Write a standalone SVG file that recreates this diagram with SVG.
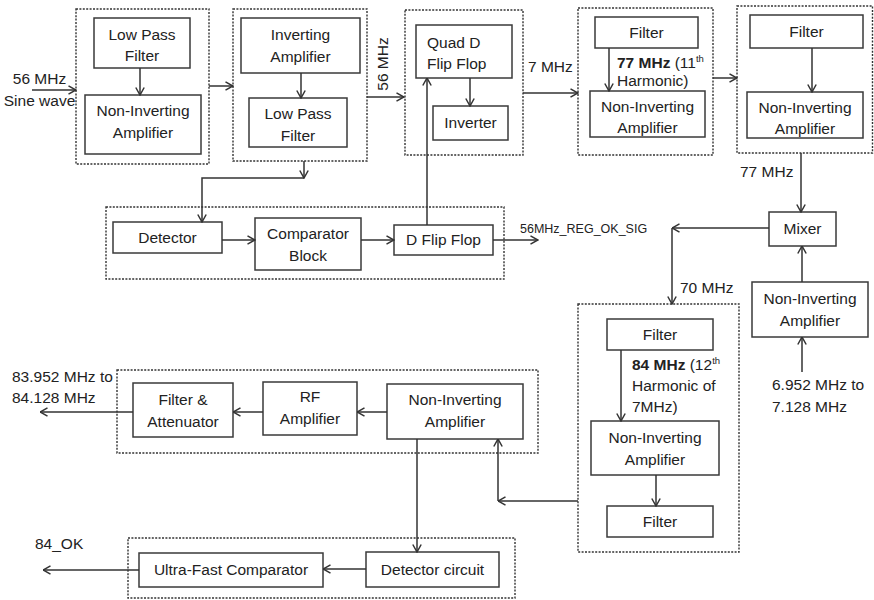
<svg xmlns="http://www.w3.org/2000/svg" width="874" height="600" viewBox="0 0 874 600">
  <defs>
    <style>
      text { font-family: "Liberation Sans", Arial, sans-serif; font-size: 15.5px; fill: #222; }
      .c { text-anchor: middle; }
      .b { font-weight: bold; }
      .small { font-size: 12.5px; }
      .sup { font-size: 9.5px; }
      .grp { fill: none; stroke: #333; stroke-width: 1.4; stroke-dasharray: 2 1.4; }
      .box { fill: #fff; stroke: #3a3a3a; stroke-width: 1.5; }
      .wire { fill: none; stroke: #333; stroke-width: 1.5; }
      .arr { marker-end: url(#head); }
    </style>
    <marker id="head" viewBox="0 0 10 10" refX="9.5" refY="5" markerWidth="10" markerHeight="10" markerUnits="userSpaceOnUse" orient="auto">
      <path d="M2,0.8 L9.5,5 L2,9.2" fill="none" stroke="#333" stroke-width="1.5"/>
    </marker>
  </defs>
  <rect width="874" height="600" fill="#fff"/>

  <!-- Input conditioning stage -->
  <g id="stage1">
    <rect class="grp" x="76" y="9" width="133" height="155"/>
    <g id="lpf1">
      <rect class="box" x="94" y="18" width="96" height="50"/>
      <text class="c" x="142" y="40">Low Pass</text>
      <text class="c" x="142" y="61">Filter</text>
    </g>
    <g id="nia1">
      <rect class="box" x="85" y="95" width="116" height="59"/>
      <text class="c" x="143" y="116">Non-Inverting</text>
      <text class="c" x="143" y="138">Amplifier</text>
    </g>
  </g>

  <g id="stage2">
    <rect class="grp" x="233" y="9" width="134" height="152"/>
    <g id="inv-amp">
      <rect class="box" x="241" y="18" width="119" height="55"/>
      <text class="c" x="300.5" y="40">Inverting</text>
      <text class="c" x="300.5" y="62">Amplifier</text>
    </g>
    <g id="lpf2">
      <rect class="box" x="249" y="98" width="98" height="49"/>
      <text class="c" x="298" y="119">Low Pass</text>
      <text class="c" x="298" y="141">Filter</text>
    </g>
  </g>

  <g id="stage3">
    <rect class="grp" x="405" y="10" width="118" height="145"/>
    <g id="quad-dff">
      <rect class="box" x="416" y="25" width="96" height="53"/>
      <text x="427" y="48">Quad D</text>
      <text x="427" y="69">Flip Flop</text>
    </g>
    <g id="inverter">
      <rect class="box" x="433" y="106" width="75" height="34"/>
      <text class="c" x="470.5" y="128">Inverter</text>
    </g>
  </g>

  <g id="stage4">
    <rect class="grp" x="578" y="8" width="135" height="147"/>
    <g id="filter77">
      <rect class="box" x="595" y="17" width="103" height="31"/>
      <text class="c" x="646.5" y="38">Filter</text>
    </g>
    <g id="nia77">
      <rect class="box" x="590" y="91" width="115" height="46"/>
      <text class="c" x="647.5" y="112">Non-Inverting</text>
      <text class="c" x="647.5" y="133">Amplifier</text>
    </g>
  </g>

  <g id="stage5">
    <rect class="grp" x="737" y="6" width="135.5" height="147"/>
    <g id="filter77b">
      <rect class="box" x="750" y="15" width="113" height="33"/>
      <text class="c" x="806.5" y="37">Filter</text>
    </g>
    <g id="nia77b">
      <rect class="box" x="747" y="92" width="116" height="46"/>
      <text class="c" x="805" y="113">Non-Inverting</text>
      <text class="c" x="805" y="134">Amplifier</text>
    </g>
  </g>

  <g id="mixer">
    <rect class="box" x="769" y="212" width="67" height="34"/>
    <text class="c" x="802.5" y="234">Mixer</text>
  </g>

  <g id="nia-lo">
    <rect class="box" x="752" y="282" width="116" height="55"/>
    <text class="c" x="810" y="304">Non-Inverting</text>
    <text class="c" x="810" y="326">Amplifier</text>
  </g>

  <!-- Regulation check -->
  <g id="regcheck">
    <rect class="grp" x="106" y="207" width="398" height="72"/>
    <g id="detector">
      <rect class="box" x="113" y="222" width="109" height="31"/>
      <text class="c" x="167.5" y="243">Detector</text>
    </g>
    <g id="comparator">
      <rect class="box" x="255" y="218" width="106" height="52"/>
      <text class="c" x="308" y="239">Comparator</text>
      <text class="c" x="308" y="261">Block</text>
    </g>
    <g id="dff">
      <rect class="box" x="394" y="225" width="99" height="30"/>
      <text class="c" x="443.5" y="245">D Flip Flop</text>
    </g>
  </g>

  <!-- 84 MHz harmonic path -->
  <g id="stage84">
    <rect class="grp" x="578" y="304" width="161" height="248"/>
    <g id="filter84">
      <rect class="box" x="607" y="319" width="106" height="31"/>
      <text class="c" x="660" y="340">Filter</text>
    </g>
    <g id="nia84">
      <rect class="box" x="591" y="421" width="128" height="54"/>
      <text class="c" x="655" y="443">Non-Inverting</text>
      <text class="c" x="655" y="465">Amplifier</text>
    </g>
    <g id="filter84b">
      <rect class="box" x="607" y="506" width="106" height="31"/>
      <text class="c" x="660" y="527">Filter</text>
    </g>
  </g>

  <g id="outstage">
    <rect class="grp" x="117" y="370" width="421" height="83"/>
    <g id="filt-att">
      <rect class="box" x="133" y="383" width="100" height="54"/>
      <text class="c" x="183" y="405">Filter &amp;</text>
      <text class="c" x="183" y="427">Attenuator</text>
    </g>
    <g id="rf-amp">
      <rect class="box" x="263" y="382" width="94" height="53"/>
      <text class="c" x="310" y="402">RF</text>
      <text class="c" x="310" y="424">Amplifier</text>
    </g>
    <g id="nia-out">
      <rect class="box" x="387" y="384" width="136" height="55"/>
      <text class="c" x="455" y="405">Non-Inverting</text>
      <text class="c" x="455" y="427">Amplifier</text>
    </g>
  </g>

  <g id="okstage">
    <rect class="grp" x="128" y="538" width="387" height="60"/>
    <g id="ufc">
      <rect class="box" x="139" y="553" width="184" height="34"/>
      <text class="c" x="231" y="575">Ultra-Fast Comparator</text>
    </g>
    <g id="det-circuit">
      <rect class="box" x="366" y="552" width="133" height="35"/>
      <text class="c" x="432.5" y="575">Detector circuit</text>
    </g>
  </g>

  <!-- Connectors -->
  <g id="connectors">
    <line class="wire arr" x1="32" y1="90" x2="76" y2="90"/>
    <line class="wire arr" x1="140" y1="68" x2="140" y2="95"/>
    <line class="wire arr" x1="209" y1="86" x2="233" y2="86"/>
    <line class="wire arr" x1="301" y1="73" x2="301" y2="98"/>
    <line class="wire arr" x1="367" y1="97" x2="404" y2="97"/>
    <line class="wire arr" x1="470" y1="78" x2="470" y2="106"/>
    <line class="wire arr" x1="523" y1="93" x2="578" y2="93"/>
    <line class="wire arr" x1="609" y1="48" x2="609" y2="91"/>
    <line class="wire arr" x1="713" y1="78" x2="737" y2="78"/>
    <line class="wire arr" x1="812" y1="48" x2="812" y2="92"/>
    <line class="wire arr" x1="801" y1="153" x2="801" y2="212"/>
    <line class="wire arr" x1="769" y1="228" x2="672" y2="228"/>
    <line class="wire arr" x1="672" y1="228" x2="672" y2="304"/>
    <line class="wire arr" x1="802" y1="282" x2="802" y2="246"/>
    <line class="wire arr" x1="802" y1="372" x2="802" y2="337"/>
    <line class="wire arr" x1="304" y1="161" x2="304" y2="178"/>
    <polyline class="wire arr" points="304,178 202,178 202,222"/>
    <line class="wire arr" x1="222" y1="240" x2="255" y2="240"/>
    <line class="wire arr" x1="361" y1="240" x2="394" y2="240"/>
    <line class="wire arr" x1="493" y1="240" x2="538" y2="240"/>
    <line class="wire arr" x1="427" y1="225" x2="427" y2="78"/>
    <line class="wire arr" x1="621" y1="350" x2="621" y2="421"/>
    <line class="wire arr" x1="656" y1="475" x2="656" y2="506"/>
    <line class="wire arr" x1="578" y1="501" x2="498" y2="501"/>
    <line class="wire arr" x1="498" y1="501" x2="498" y2="439"/>
    <line class="wire arr" x1="387" y1="412" x2="357" y2="412"/>
    <line class="wire arr" x1="263" y1="412" x2="233" y2="412"/>
    <line class="wire arr" x1="133" y1="412" x2="40" y2="412"/>
    <line class="wire arr" x1="417" y1="439" x2="417" y2="552"/>
    <line class="wire arr" x1="366" y1="569" x2="323" y2="569"/>
    <line class="wire arr" x1="139" y1="570" x2="43" y2="570"/>
  </g>

  <!-- Signal labels -->
  <g id="labels">
    <text class="c" x="39.5" y="84">56 MHz</text>
    <text class="c" x="39.5" y="106">Sine wave</text>
    <text class="c" transform="translate(388,64) rotate(-90)">56 MHz</text>
    <text x="528" y="72">7 MHz</text>
    <text x="617" y="68"><tspan class="b">77 MHz</tspan> (11<tspan class="sup" dy="-6">th</tspan></text>
    <text x="617" y="86">Harmonic)</text>
    <text x="740" y="177">77 MHz</text>
    <text class="small" x="520" y="233">56MHz_REG_OK_SIG</text>
    <text x="680" y="293">70 MHz</text>
    <text x="632" y="370"><tspan class="b">84 MHz</tspan> (12<tspan class="sup" dy="-6">th</tspan></text>
    <text x="632" y="391">Harmonic of</text>
    <text x="632" y="412">7MHz)</text>
    <text x="772" y="390">6.952 MHz to</text>
    <text x="772" y="412">7.128 MHz</text>
    <text x="12" y="382">83.952 MHz to</text>
    <text x="12" y="403">84.128 MHz</text>
    <text x="35" y="549">84_OK</text>
  </g>
</svg>
